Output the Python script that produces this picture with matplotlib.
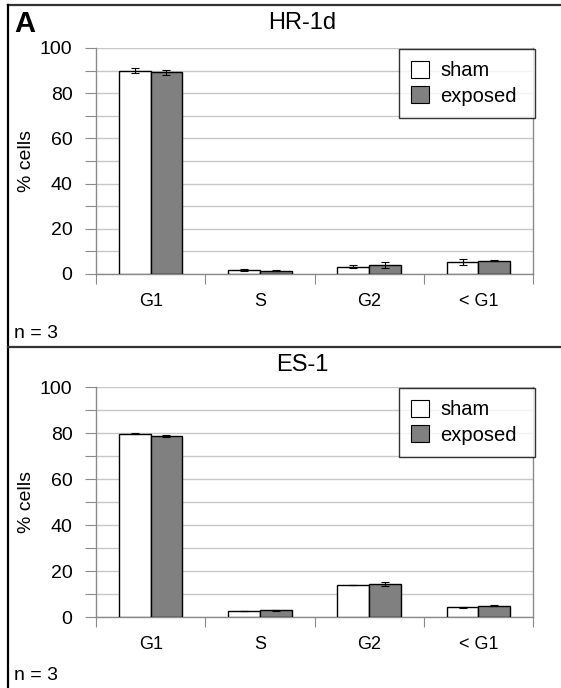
import matplotlib
matplotlib.use('Agg')
import matplotlib.pyplot as plt
from matplotlib.lines import Line2D
from matplotlib.patches import Patch
import numpy as np

plt.rcParams['font.family'] = ['Liberation Sans', 'DejaVu Sans']

# data
phases = ['G1', 'S', 'G2', '< G1']
titles = ['HR-1d', 'ES-1']
sham_hr = [90.0, 1.8, 3.2, 5.2]
sham_hr_err = [1.2, 0.4, 0.6, 1.3]
exp_hr = [89.2, 1.5, 3.9, 5.8]
exp_hr_err = [1.0, 0.2, 1.3, 0.2]
sham_es = [79.7, 2.7, 13.8, 4.2]
sham_es_err = [0.2, 0.1, 0.1, 0.1]
exp_es = [78.6, 2.9, 14.2, 4.9]
exp_es_err = [0.5, 0.2, 0.9, 0.3]
y_ticks = [0, 20, 40, 60, 80, 100]

W, H = 561, 688
fig = plt.figure(figsize=(W / 100, H / 100), dpi=100)

def fx(px):
    return px / W

def fy(py):
    return 1 - py / H

# outer frame and divider
lw_frame = 1.6
fig.add_artist(Line2D([fx(8), 1], [fy(5), fy(5)], color='#333333', lw=lw_frame))
fig.add_artist(Line2D([fx(8), fx(8)], [fy(5), 0], color='black', lw=lw_frame))
fig.add_artist(Line2D([fx(8), 1], [fy(347), fy(347)], color='#333333', lw=lw_frame))

fig.text(fx(14), fy(24), 'A', fontsize=21, fontweight='bold', va='center', ha='left')

panels = [
    (titles[0], sham_hr, sham_hr_err, exp_hr, exp_hr_err, 48, 274, 0),
    (titles[1], sham_es, sham_es_err, exp_es, exp_es_err, 387, 617, 342),
]

x = np.arange(len(phases))
bw = 0.29
grid_c = '#c8c8c8'
spine_c = '#8a8a8a'

for title, s, se, e, ee, top, bot, off in panels:
    ax = fig.add_axes([fx(96), fy(bot), fx(533) - fx(96), fy(top) - fy(bot)])
    ax.bar(x - bw / 2, s, bw, color='white', edgecolor='black', linewidth=1,
           yerr=se, capsize=3, error_kw=dict(elinewidth=0.8, capthick=0.8), zorder=3)
    ax.bar(x + bw / 2, e, bw, color='#808080', edgecolor='black', linewidth=1,
           yerr=ee, capsize=3, error_kw=dict(elinewidth=0.8, capthick=0.8), zorder=3)
    ax.set_xlim(-0.5, 3.5)
    ax.set_ylim(0, 100)
    ax.set_yticks(np.arange(0, 101, 10))
    ax.set_yticklabels([str(v) if v in y_ticks else '' for v in range(0, 101, 10)])
    ax.yaxis.grid(True, color=grid_c, lw=1, zorder=0)
    ax.set_axisbelow(True)
    ax.set_xticks(np.arange(-0.5, 4, 1))
    ax.set_xticklabels([])
    ax.set_xticks(x, minor=True)
    ax.set_xticklabels(phases, minor=True)
    ax.tick_params(axis='x', which='major', length=7, color=spine_c, direction='out')
    ax.tick_params(axis='x', which='minor', length=0, pad=14, labelsize=13)
    ax.tick_params(axis='y', length=8, color=spine_c, labelsize=14, pad=9)
    for sp in ax.spines.values():
        sp.set_color(spine_c)
        sp.set_linewidth(1)
    ax.spines['top'].set_visible(False)
    ax.set_ylabel('% cells', fontsize=14)
    ax.yaxis.set_label_coords((35 - 96) / 437, 0.5)

    handles = [Patch(facecolor='white', edgecolor='black', lw=0.8, label='sham'),
               Patch(facecolor='#808080', edgecolor='black', lw=0.8, label='exposed')]
    leg = fig.legend(handles=handles, loc='upper left',
                     bbox_to_anchor=(fx(399), fy(top + 1) - 0.01, fx(535) - fx(399), 0.01),
                     mode='expand', frameon=True, fancybox=False, edgecolor='black',
                     fontsize=14.5, handlelength=0.9, handleheight=0.9, handletextpad=0.55,
                     borderpad=0.6, labelspacing=0.3, borderaxespad=0)
    leg.get_frame().set_linewidth(1)

    fig.text(fx(302), fy(23 + off), title, fontsize=17, ha='center', va='center')
    fig.text(fx(14), fy(333 + off), 'n = 3', fontsize=14, ha='left', va='center')

fig.savefig('out.png', dpi=100)
